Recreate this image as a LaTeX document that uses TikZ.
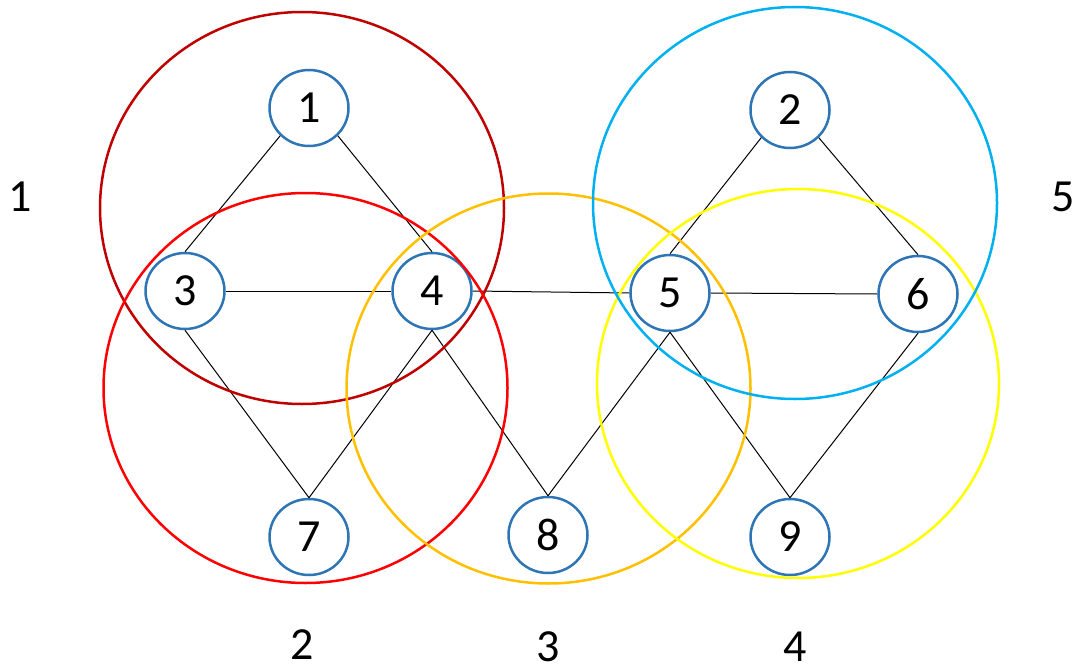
\documentclass[tikz,border=0pt]{standalone}
\usepackage{fontspec}
\setmainfont{Carlito}
\usepackage{xcolor}
\usetikzlibrary{shapes.geometric}
\definecolor{nodeblue}{RGB}{46,117,182}
\definecolor{darkred}{RGB}{192,0,0}
\definecolor{brightred}{RGB}{255,0,0}
\definecolor{amber}{RGB}{255,192,0}
\definecolor{skyblue}{RGB}{0,176,240}
\definecolor{lemon}{RGB}{255,255,0}

\tikzset{
  vertex/.style={ellipse, draw=nodeblue, line width=2.5pt, fill=white, minimum width=79pt, minimum height=76pt, inner sep=0pt, font=\fontsize{46}{46}\selectfont},
  edge/.style={draw=black, line width=1pt},
  group/.style={line width=2.5pt},
  grouplabel/.style={font=\fontsize{46}{46}\selectfont}
}

\begin{document}
\begin{tikzpicture}[x=1pt, y=-1pt]
  \useasboundingbox (0,0) rectangle (1078,666);
  % vertices
  \node[vertex] (n1) at (309,108) {1};
  \node[vertex] (n2) at (790,110) {2};
  \node[vertex] (n3) at (185,291) {3};
  \node[vertex] (n4) at (432,291) {4};
  \node[vertex] (n5) at (670,293) {5};
  \node[vertex] (n6) at (918,294) {6};
  \node[vertex] (n7) at (309,537) {7};
  \node[vertex] (n8) at (548,535) {8};
  \node[vertex] (n9) at (790,537) {9};
  % edges
  \draw[edge] (n1.south west) -- (n3.north);
  \draw[edge] (n1.south east) -- (n4.north);
  \draw[edge] (n2.south west) -- (n5.north);
  \draw[edge] (n2.south east) -- (n6.north);
  \draw[edge] (n3.east) -- (n4.west);
  \draw[edge] (n4.east) -- (n5.west);
  \draw[edge] (n5.east) -- (n6.west);
  \draw[edge] (n3.south) -- (n7.north);
  \draw[edge] (n4.south) -- (n7.north);
  \draw[edge] (n4.south) -- (n8.north);
  \draw[edge] (n5.south) -- (n8.north);
  \draw[edge] (n5.south) -- (n9.north);
  \draw[edge] (n6.south) -- (n9.north);
  % groups
  \draw[group, color=darkred] (302,208) ellipse (202pt and 196pt); % group 1
  \draw[group, color=brightred] (305.5,388) ellipse (202pt and 195pt); % group 2
  \draw[group, color=amber] (548.5,388.5) ellipse (202pt and 195pt); % group 3
  \draw[group, color=lemon] (798,383.5) ellipse (201pt and 194.5pt); % group 4
  \draw[group, color=skyblue] (795,203) ellipse (202pt and 196pt); % group 5
  % group labels
  \node[grouplabel] (g1) at (20,197) {1};
  \node[grouplabel] (g2) at (302,645) {2};
  \node[grouplabel] (g3) at (548,647) {3};
  \node[grouplabel] (g4) at (795,647) {4};
  \node[grouplabel] (g5) at (1063,197) {5};
\end{tikzpicture}
\end{document}
